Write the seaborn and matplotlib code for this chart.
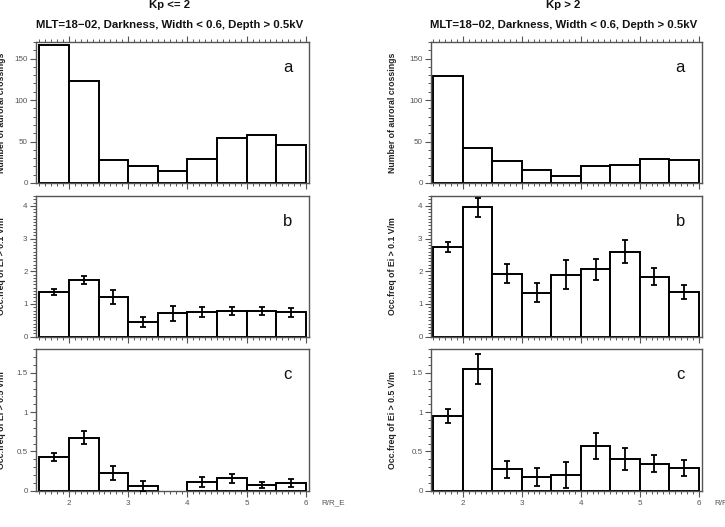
import numpy as np
import pandas as pd
import seaborn as sns
import matplotlib
matplotlib.use("Agg")
import matplotlib.pyplot as plt
from matplotlib.ticker import MultipleLocator, FuncFormatter

# ---- data ----
r_bins = [1.75, 2.25, 2.75, 3.25, 3.75, 4.25, 4.75, 5.25, 5.75]

count_low = [166, 123, 28, 20, 14, 29, 54, 58, 46]
count_high = [129, 42, 26, 16, 9, 20, 22, 28.5, 28]

occ01_low = [1.36, 1.74, 1.22, 0.46, 0.72, 0.76, 0.78, 0.78, 0.74]
occ01_low_err = [0.09, 0.12, 0.21, 0.15, 0.23, 0.16, 0.13, 0.13, 0.13]
occ01_high = [2.75, 3.95, 1.93, 1.35, 1.90, 2.06, 2.60, 1.83, 1.36]
occ01_high_err = [0.15, 0.30, 0.28, 0.28, 0.44, 0.32, 0.35, 0.26, 0.22]

occ05_low = [0.43, 0.675, 0.22, 0.06, np.nan, 0.106, 0.157, 0.072, 0.094]
occ05_low_err = [0.05, 0.08, 0.09, 0.06, np.nan, 0.065, 0.06, 0.035, 0.05]
occ05_high = [0.947, 1.55, 0.27, 0.176, 0.20, 0.57, 0.407, 0.343, 0.287]
occ05_high_err = [0.09, 0.19, 0.105, 0.11, 0.16, 0.17, 0.14, 0.11, 0.10]

col_titles = ["Kp <= 2", "Kp > 2"]
subtitle = "MLT=18\u221202, Darkness, Width < 0.6, Depth > 0.5kV"
ylabels = ["Number of auroral crossings", "Occ.freq of Ei > 0.1 V/m", "Occ.freq of Ei > 0.5 V/m"]
panel_letters = ["a", "b", "c"]
xticks = [2, 3, 4, 5, 6]
xlabel = "R/R_E"

sns.set_theme(style="white")
plt.rcParams["font.family"] = ["Liberation Sans", "DejaVu Sans"]

W, H = 725, 527
fig = plt.figure(figsize=(W / 100, H / 100), dpi=100)

def fx(px):
    return px / W

def fy(py):
    return 1 - py / H

col_x = [(36, 309), (431, 702)]
label_off = [30, 34]
row_y = [(42, 183), (196, 336.7), (349.3, 490.7)]
xlims = [(1.445, 6.05), (1.46, 6.056)]
ylims = [(0, 170), (0, 4.3), (0, 1.8)]
ymajor = [50, 1, 0.5]
yminor = [10, 0.1, 0.1]

data = [
    [(count_low, None), (occ01_low, occ01_low_err), (occ05_low, occ05_low_err)],
    [(count_high, None), (occ01_high, occ01_high_err), (occ05_high, occ05_high_err)],
]

fmt = FuncFormatter(lambda v, p: f"{v:g}")
grey = "#555555"

for c in range(2):
    x0, x1 = col_x[c]
    for r in range(3):
        y0, y1 = row_y[r]
        ax = fig.add_axes([fx(x0), fy(y1), fx(x1 - x0), (y1 - y0) / H])
        vals, errs = data[c][r]
        df = pd.DataFrame({"r": r_bins, "v": vals}).dropna()
        sns.barplot(data=df, x="r", y="v", native_scale=True, width=1.0,
                    color="white", edgecolor="black", linewidth=1.4,
                    errorbar=None, ax=ax, zorder=2)
        for p in ax.patches:
            p.set_facecolor("white")
        if errs is not None:
            ax.errorbar(r_bins, vals, yerr=errs, fmt="none", ecolor="black",
                        elinewidth=1.3, capsize=2.0, capthick=1.3, zorder=3)
        ax.set_xlim(*xlims[c])
        ax.set_ylim(*ylims[r])
        ax.set_xticks(xticks)
        ax.xaxis.set_minor_locator(MultipleLocator(0.1))
        ax.yaxis.set_major_locator(MultipleLocator(ymajor[r]))
        ax.yaxis.set_minor_locator(MultipleLocator(yminor[r]))
        ax.yaxis.set_major_formatter(fmt)
        ax.xaxis.set_major_formatter(fmt)
        ax.tick_params(axis="x", which="both", direction="out", bottom=True,
                       top=(r == 0), labelbottom=(r == 2), colors=grey,
                       labelsize=5.8, pad=2)
        ax.tick_params(axis="y", which="both", direction="out", left=True,
                       right=False, colors=grey, labelsize=5.8, pad=1.5)
        ax.tick_params(which="major", length=4.5, width=0.8)
        ax.tick_params(which="minor", length=2.2, width=0.7)
        for s in ax.spines.values():
            s.set_color(grey)
            s.set_linewidth(1.0)
        ax.set_xlabel("")
        ax.set_ylabel(ylabels[r], fontsize=6.3, fontweight="bold", color="#222222")
        ax.yaxis.set_label_coords(-label_off[c] / (x1 - x0), 0.5)
        ax.text(5.69, ylims[r][1] * 0.82, panel_letters[r], fontsize=12,
                ha="center", va="center", color="#111111")
        if r == 2:
            ax.text(1.045, -12 / (y1 - y0), xlabel, transform=ax.transAxes,
                    ha="left", va="center", fontsize=5.8, color=grey)
    cx = fx((x0 + x1) / 2 - 3)
    fig.text(cx, fy(5.5), col_titles[c], ha="center", va="center",
             fontsize=8.2, fontweight="bold", color="#111111")
    fig.text(cx, fy(25), subtitle, ha="center", va="center",
             fontsize=8.2, fontweight="bold", color="#111111")

fig.savefig("out.png", dpi=100)
